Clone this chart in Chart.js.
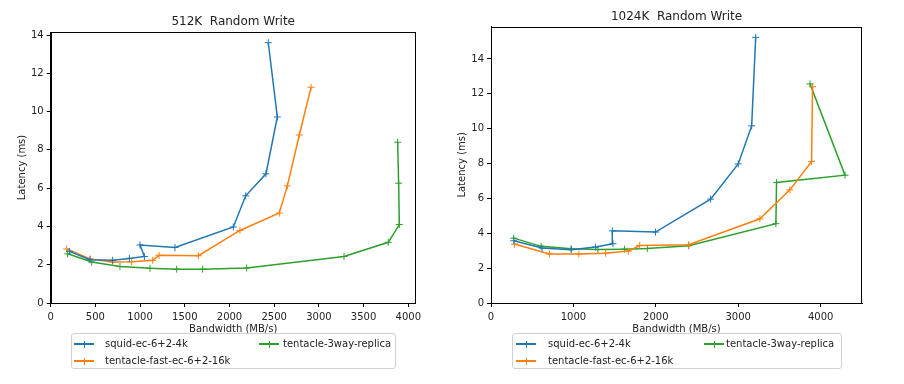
<!DOCTYPE html>
<html>
<head>
<meta charset="utf-8">
<script src="https://cdn.jsdelivr.net/npm/chart.js@4.4.0/dist/chart.umd.min.js"></script>
<style>
  body { margin: 0; background: #fff; font-family: 'DejaVu Sans', sans-serif; }
  #wrap { position: relative; width: 904px; height: 384px; overflow: hidden; }
  .plot { position: absolute; top: 0; height: 340px; }
  .legend { position: absolute; top: 333px; height: 36px; box-sizing: border-box;
            border: 1px solid #d0d0d0; border-radius: 3px; background: rgba(255,255,255,0.8);
            font-size: 10px; color: #222; }
  .item { position: absolute; height: 12px; line-height: 12px; white-space: nowrap; }
  .swatch { position: absolute; top: 0; width: 20px; height: 12px; }
  .swatch .h { position: absolute; left: 0; right: 0; top: 5.25px; height: 1.5px; }
  .swatch .v { position: absolute; left: 9.5px; width: 1px; top: 2.5px; height: 7px; }
  .label { position: absolute; top: 0; }
</style>
</head>
<body>
<div id="wrap">
  <div class="plot" style="left:0;width:440px"><canvas id="left"></canvas></div>
  <div class="plot" style="left:440px;width:464px"><canvas id="right"></canvas></div>
  <div class="legend" id="legend-left" style="left:71px;width:325px"></div>
  <div class="legend" id="legend-right" style="left:512px;width:330px"></div>
</div>
<script>
const seriesNames = ['squid-ec-6+2-4k', 'tentacle-fast-ec-6+2-16k', 'tentacle-3way-replica']
const seriesColors = ['#1f77b4', '#ff7f0e', '#2ca02c']

// 512K
const squid512Bw = [209, 440, 693, 880, 1048, 999, 1390, 2043, 2181, 2408, 2535, 2434]
const squid512Lat = [2.70, 2.26, 2.23, 2.33, 2.43, 3.03, 2.90, 3.97, 5.60, 6.75, 9.72, 13.60]
const fast512Bw = [179, 440, 693, 906, 1141, 1212, 1652, 2117, 2557, 2647, 2781, 2912]
const fast512Lat = [2.82, 2.30, 2.14, 2.16, 2.23, 2.49, 2.47, 3.79, 4.70, 6.12, 8.78, 11.27]
const replica512Bw = [190, 459, 775, 1111, 1409, 1700, 2192, 3281, 3776, 3900, 3892, 3881]
const replica512Lat = [2.57, 2.14, 1.91, 1.81, 1.77, 1.77, 1.83, 2.43, 3.17, 4.10, 6.26, 8.40]

// 1024K
const squid1024Bw = [276, 620, 973, 1269, 1480, 1472, 1996, 2665, 3000, 3163, 3212]
const squid1024Lat = [3.57, 3.15, 3.06, 3.21, 3.40, 4.14, 4.07, 5.96, 7.98, 10.16, 15.24]
const fast1024Bw = [284, 709, 1066, 1390, 1666, 1804, 2399, 3263, 3627, 3890, 3902]
const fast1024Lat = [3.38, 2.81, 2.81, 2.86, 2.98, 3.30, 3.34, 4.83, 6.49, 8.12, 12.41]
const replica1024Bw = [276, 608, 973, 1297, 1621, 1897, 2399, 3457, 3465, 4296, 3871]
const replica1024Lat = [3.72, 3.25, 3.11, 3.07, 3.09, 3.13, 3.28, 4.55, 6.91, 7.33, 12.57]

// graduations
const xTicks512 = [0, 500, 1000, 1500, 2000, 2500, 3000, 3500, 4000]
const xTicks1024 = [0, 1000, 2000, 3000, 4000]
const yTicks512 = [0, 2, 4, 6, 8, 10, 12, 14]
const yTicks1024 = [0, 2, 4, 6, 8, 10, 12, 14]

const textColor = '#222'

// cadre complet autour de la zone de tracé
const framePlugin = {
    id: 'frame',
    afterDatasetsDraw(chart) {
        const a = chart.chartArea
        const ctx = chart.ctx
        ctx.save()
        ctx.strokeStyle = '#000'
        ctx.lineWidth = 1
        ctx.strokeRect(Math.round(a.left) + 0.5, Math.round(a.top) + 0.5,
            Math.round(a.right - a.left) - 1, Math.round(a.bottom - a.top))
        ctx.restore()
    }
}

function makeDatasets(xs, ys) {
    return xs.map((x, i) => ({
        label: seriesNames[i],
        data: x.map((v, j) => ({ x: v, y: ys[i][j] })),
        showLine: true,
        borderColor: seriesColors[i],
        backgroundColor: seriesColors[i],
        borderWidth: 1.5,
        pointStyle: 'cross',
        pointRadius: 3.5,
        pointHoverRadius: 3.5,
        pointBorderWidth: 1,
        tension: 0
    }))
}

function createChart(id, cfg) {
    const ctx = document.getElementById(id)
    new Chart(ctx, {
        type: 'scatter',
        data: { datasets: makeDatasets(cfg.xs, cfg.ys) },
        options: {
            responsive: true,
            maintainAspectRatio: false,
            animation: false,
            layout: { padding: { left: 0, right: cfg.padRight, top: 0, bottom: 0 } },
            plugins: {
                legend: { display: false },
                tooltip: { enabled: false },
                title: {
                    display: true,
                    text: cfg.title,
                    fullSize: false,
                    color: textColor,
                    font: { family: 'DejaVu Sans', size: 12, weight: 'normal' },
                    padding: { top: cfg.titleTop, bottom: cfg.titleBottom }
                }
            },
            scales: {
                x: {
                    type: 'linear',
                    min: 0,
                    max: cfg.xMax,
                    afterFit: scale => { scale.height = 37 },
                    afterBuildTicks: scale => {
                        scale.ticks = cfg.xTicks.map(v => ({ value: v }))
                    },
                    ticks: {
                        autoSkip: false,
                        color: textColor,
                        font: { family: 'DejaVu Sans', size: 10 },
                        padding: 4,
                        maxRotation: 0,
                        callback: v => String(v)
                    },
                    grid: { drawOnChartArea: false, drawTicks: true, tickLength: 4, color: '#000' },
                    border: { display: true, color: '#000' },
                    title: {
                        display: true,
                        text: 'Bandwidth (MB/s)',
                        color: textColor,
                        font: { family: 'DejaVu Sans', size: 10 },
                        padding: { top: 0, bottom: 5 }
                    }
                },
                y: {
                    type: 'linear',
                    min: 0,
                    max: cfg.yMax,
                    afterFit: scale => { scale.width = cfg.yWidth },
                    afterBuildTicks: scale => {
                        scale.ticks = cfg.yTicks.map(v => ({ value: v }))
                    },
                    ticks: {
                        autoSkip: false,
                        color: textColor,
                        font: { family: 'DejaVu Sans', size: 10 },
                        padding: 3,
                        callback: v => String(v)
                    },
                    grid: { drawOnChartArea: false, drawTicks: true, tickLength: 4, color: '#000' },
                    border: { display: true, color: '#000' },
                    title: {
                        display: true,
                        text: 'Latency (ms)',
                        color: textColor,
                        font: { family: 'DejaVu Sans', size: 10 },
                        padding: { top: 16, bottom: 0 }
                    }
                }
            }
        },
        plugins: [framePlugin]
    })
}

function createLegend(id, pos) {
    const box = document.getElementById(id)
    seriesNames.forEach((name, i) => {
        const p = pos[i]
        const item = document.createElement('div')
        item.className = 'item'
        item.style.left = p[0] + 'px'
        item.style.top = p[1] + 'px'

        const sw = document.createElement('div')
        sw.className = 'swatch'
        sw.style.left = '0px'
        const h = document.createElement('div')
        h.className = 'h'
        h.style.background = seriesColors[i]
        const v = document.createElement('div')
        v.className = 'v'
        v.style.background = seriesColors[i]
        sw.appendChild(h)
        sw.appendChild(v)

        const lab = document.createElement('span')
        lab.className = 'label'
        lab.style.left = p[2] + 'px'
        lab.textContent = name

        item.appendChild(sw)
        item.appendChild(lab)
        box.appendChild(item)
    })
}

createChart('left', {
    title: '512K  Random Write',
    xs: [squid512Bw, fast512Bw, replica512Bw],
    ys: [squid512Lat, fast512Lat, replica512Lat],
    xMax: 4083, xTicks: xTicks512, yMax: 14.16, yTicks: yTicks512,
    yWidth: 50.7, padRight: 24.3,
    titleTop: 14.5, titleBottom: 3.1
})

createChart('right', {
    title: '1024K  Random Write',
    xs: [squid1024Bw, fast1024Bw, replica1024Bw],
    ys: [squid1024Lat, fast1024Lat, replica1024Lat],
    xMax: 4502, xTicks: xTicks1024, yMax: 15.85, yTicks: yTicks1024,
    yWidth: 51, padRight: 42,
    titleTop: 9.5, titleBottom: 2.8
})

// [gauche, haut, décalage du texte] pour chaque entrée
createLegend('legend-left', [[2, 4, 31], [2, 21, 31], [187, 4, 24]])
createLegend('legend-right', [[3, 4, 32], [3, 21, 32], [191, 4, 22]])
</script>
</body>
</html>
